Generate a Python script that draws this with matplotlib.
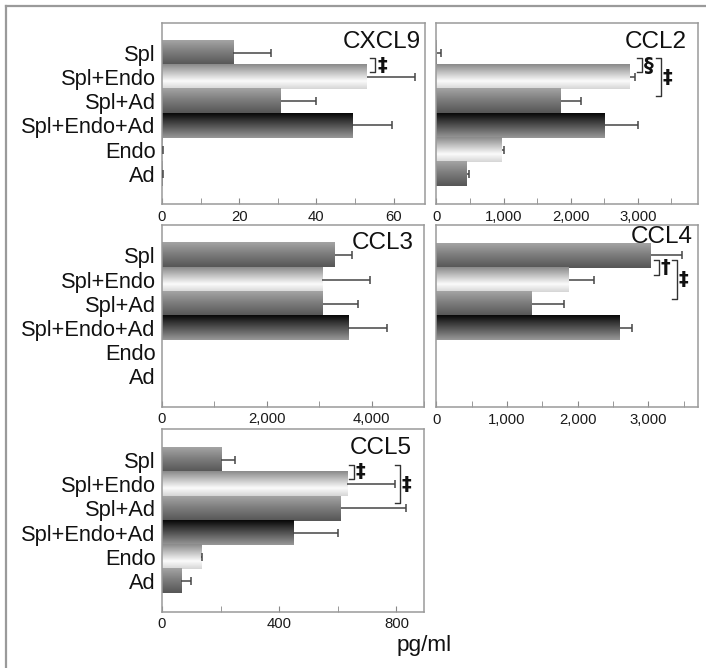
import numpy as np
import matplotlib
matplotlib.use("Agg")
import matplotlib.pyplot as plt
from matplotlib.colors import LinearSegmentedColormap
from matplotlib.ticker import FuncFormatter, MultipleLocator
from matplotlib.lines import Line2D

plt.rcParams['font.family'] = ['Liberation Sans', 'DejaVu Sans']

groups = ['Spl', 'Spl+Endo', 'Spl+Ad', 'Spl+Endo+Ad', 'Endo', 'Ad']

# mean and upper error (SD), pg/ml
cxcl9 = [18.4, 53.1, 30.7, 49.3, 0.2, 0.2]
cxcl9_sd = [9.8, 12.4, 9.3, 10.3, 0, 0]
ccl2 = [10, 2885, 1850, 2517, 980, 457]
ccl2_sd = [50, 75, 300, 483, 25, 25]
ccl3 = [3289, 3055, 3067, 3549, 0, 0]
ccl3_sd = [336, 918, 665, 741, 0, 0]
ccl4 = [3041, 1881, 1358, 2597, 0, 0]
ccl4_sd = [439, 348, 442, 175, 0, 0]
ccl5 = [203, 632, 610, 448, 134, 65]
ccl5_sd = [46, 163, 222, 153, 3, 33]

# significance: (row a, row b, bracket x, symbol)
cxcl9_sig = [(0, 1, 55.3, '‡')]
ccl2_sig = [(0, 1, 3060, '§'), (0, 2, 3343, '‡')]
ccl4_sig = [(0, 1, 3149, '†'), (0, 2, 3403, '‡')]
ccl5_sig = [(0, 1, 655, '‡'), (0, 2, 811, '‡')]

# gradient style for each group (top -> bottom)
cm_grey = LinearSegmentedColormap.from_list('g', ['#a4a4a4', '#7a7a7a', '#565656'])
cm_light = LinearSegmentedColormap.from_list('l', [(0, '#8a8a8a'), (0.68, '#fbfbfb'), (1, '#d6d6d6')])
cm_dark = LinearSegmentedColormap.from_list('d', [(0, '#080808'), (0.35, '#3c3c3c'), (1, '#989898')])
bar_cmaps = [cm_grey, cm_light, cm_grey, cm_dark, cm_light, cm_grey]

W, H = 706, 668
fig = plt.figure(figsize=(W / 100, H / 100), dpi=100)

# outer frame (left + top only)
fig.add_artist(Line2D([6 / W, 6 / W], [0, 1 - 6 / H], color='#9a9a9a', lw=1.6, transform=fig.transFigure))
fig.add_artist(Line2D([6 / W, 1], [1 - 6 / H, 1 - 6 / H], color='#9a9a9a', lw=1.6, transform=fig.transFigure))


def px_axes(left, top, right, bottom):
    return fig.add_axes([left / W, 1 - bottom / H, (right - left) / W, (bottom - top) / H])


def draw_panel(ax, vals, sds, title, xmax, major, minor, show_labels, title_xy, sig=()):
    grad = np.linspace(0, 1, 80).reshape(-1, 1)
    ypos = np.arange(len(groups))
    for y, v, cm in zip(ypos, vals, bar_cmaps):
        if v > 0:
            ax.imshow(grad, cmap=cm, aspect='auto', extent=(0, v, y + 0.5, y - 0.5),
                      origin='upper', interpolation='bilinear', zorder=2)
    vals = np.array(vals, dtype=float)
    sds = np.array(sds, dtype=float)
    ax.errorbar(vals, ypos, xerr=[np.zeros_like(sds), sds], fmt='none',
                ecolor='#454545', elinewidth=1.1, capsize=0, zorder=3)
    ends = vals + sds
    m = vals > 0
    ax.plot(ends[m], ypos[m], ls='none', marker='|', ms=6, mew=1.1, color='#454545', zorder=3)

    arm = xmax * 5 / 262
    for a, b, xb, sym in sig:
        y0, y1 = a + 0.2, b - 0.2
        ax.plot([xb - arm, xb, xb, xb - arm], [y0, y0, y1, y1], color='#333333', lw=1.0, zorder=4)
        ax.text(xb + arm * 1.3, (y0 + y1) / 2, sym, fontsize=14, fontweight='bold',
                ha='center', va='center', color='#111111', family=['DejaVu Sans'], zorder=4)

    ax.set_xlim(0, xmax)
    ax.set_ylim(len(groups) + 0.25, -1.25)
    ax.xaxis.set_major_locator(MultipleLocator(major))
    ax.xaxis.set_minor_locator(MultipleLocator(minor))
    ax.xaxis.set_major_formatter(FuncFormatter(lambda x, p: f'{x:,.0f}'))
    ax.tick_params(axis='x', which='both', direction='in', length=4, color='#888888',
                   labelsize=10.7, labelcolor='#1a1a1a', pad=4)
    ax.set_yticks(ypos)
    if show_labels:
        ax.set_yticklabels(groups, fontsize=15.7, color='#111111')
    else:
        ax.set_yticklabels([])
    ax.tick_params(axis='y', length=0, pad=4.5)
    for s in ax.spines.values():
        s.set_color('#9a9a9a')
        s.set_linewidth(1.1)
    ax.text(title_xy[0], title_xy[1], title, transform=ax.transAxes, ha='right', va='center',
            fontsize=17.5, color='#111111')


ax1 = px_axes(162, 22.7, 424.5, 204)
draw_panel(ax1, cxcl9, cxcl9_sd, 'CXCL9', 68, 20, 10, True, (0.988, 0.895), cxcl9_sig)
ax2 = px_axes(436.5, 22.7, 698.3, 204)
draw_panel(ax2, ccl2, ccl2_sd, 'CCL2', 3900, 1000, 500, False, (0.956, 0.895), ccl2_sig)
ax3 = px_axes(162, 225, 424.3, 406.7)
draw_panel(ax3, ccl3, ccl3_sd, 'CCL3', 5000, 2000, 1000, True, (0.958, 0.9))
ax4 = px_axes(436.5, 225, 697.7, 407.3)
draw_panel(ax4, ccl4, ccl4_sd, 'CCL4', 3700, 1000, 500, False, (0.981, 0.936), ccl4_sig)
ax5 = px_axes(162, 429.3, 424.3, 611.7)
draw_panel(ax5, ccl5, ccl5_sd, 'CCL5', 895, 400, 200, True, (0.952, 0.9), ccl5_sig)

fig.text(424 / W, 1 - 645 / H, 'pg/ml', fontsize=16.2, ha='center', va='center', color='#111111')

fig.savefig('out.png', dpi=100)
